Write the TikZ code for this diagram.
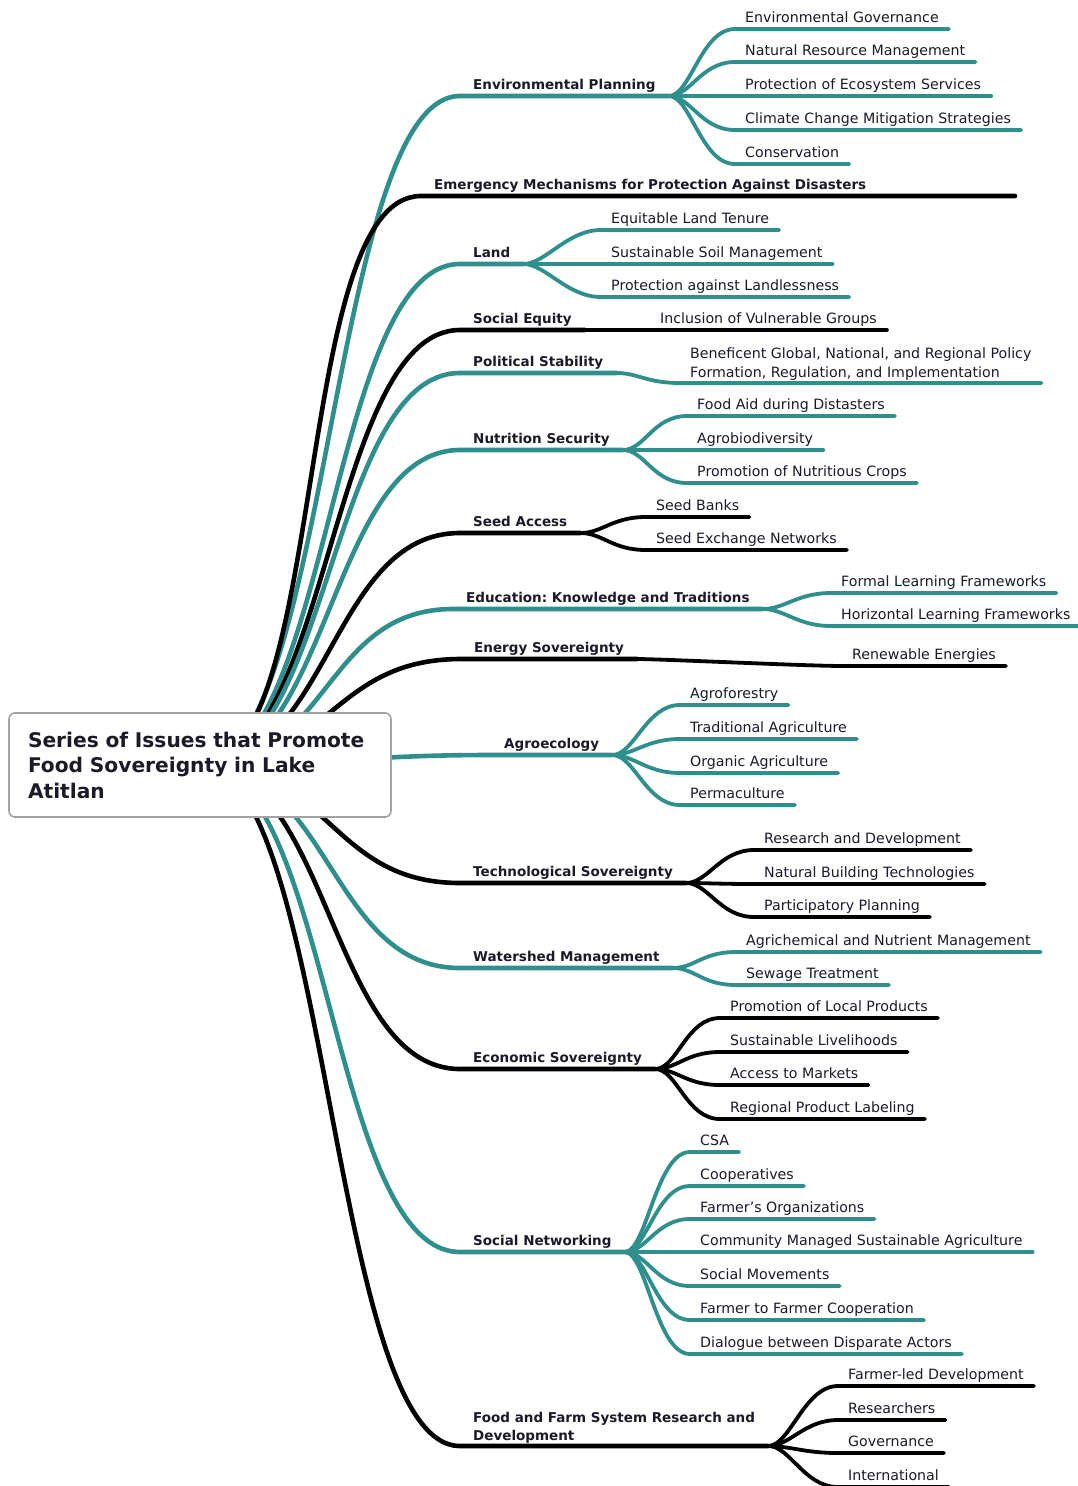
\documentclass[tikz,border=0pt]{standalone}
\usepackage{fontspec}
\setmainfont{DejaVu Sans}
\usepackage{tikz}
\usetikzlibrary{positioning,backgrounds}
\frenchspacing
\definecolor{mmteal} {HTML}{2F8F8C}
\definecolor{mmink}  {HTML}{1A1A28}
\definecolor{mmframe}{HTML}{A3A3A3}
\tikzset{
  mmroot/.style={draw=mmframe, line width=1.6pt, fill=white, rounded corners=6pt,
                 minimum width=382pt, minimum height=104pt, inner xsep=19pt,
                 text width=344pt, align=left, text=mmink,
                 font=\bfseries\fontsize{20.2}{25.5}\selectfont},
  mmtopic/.style={anchor=south west, inner xsep=13pt, inner ysep=2.5pt, text=mmink,
                  text height=10pt, text depth=3.5pt,
                  font=\bfseries\fontsize{13.5}{18}\selectfont},
  mmleaf/.style={mmtopic, inner xsep=10pt, font=\fontsize{14.2}{18.5}\selectfont},
  mmmulti/.style={align=left, text height={}, text depth={}},
  mmbranch/.style={line width=4.6pt, line cap=round,
                   to path={.. controls +(130,0) and +(-130,0) .. (\tikztotarget)}},
  mmtwig/.style={line width=3.8pt, line cap=round,
                 to path={.. controls +(22,0) and +(-34,0) .. (\tikztotarget)}},
}
\begin{document}
\begin{tikzpicture}[x=1pt,y=-1pt]
  \useasboundingbox (0,0) rectangle (1078,1486);
  \node[mmroot] (root) at (200,765) {Series of Issues that Promote\\Food Sovereignty in Lake\\Atitlan};

  \node[mmtopic] (ep) at (460,96) {Environmental Planning};
  \node[mmleaf] (ep1) at (735,29)  {Environmental Governance};
  \node[mmleaf] (ep2) at (735,62)  {Natural Resource Management};
  \node[mmleaf] (ep3) at (735,96)  {Protection of Ecosystem Services};
  \node[mmleaf] (ep4) at (735,130) {Climate Change Mitigation Strategies};
  \node[mmleaf] (ep5) at (735,164) {Conservation};

  \node[mmtopic] (em) at (421,196) {Emergency Mechanisms for Protection Against Disasters};
  \coordinate (emend) at (1015,196);

  \node[mmtopic] (la) at (460,264) {Land};
  \node[mmleaf] (la1) at (601,230) {Equitable Land Tenure};
  \node[mmleaf] (la2) at (601,264) {Sustainable Soil Management};
  \node[mmleaf] (la3) at (601,297) {Protection against Landlessness};

  \node[mmtopic] (se) at (460,330) {Social Equity};
  \node[mmleaf] (se1) at (650,330) {Inclusion of Vulnerable Groups};

  \node[mmtopic] (ps) at (460,373) {Political Stability};
  \node[mmleaf,mmmulti] (ps1) at (680,383) {Beneficent Global, National, and Regional Policy\\Formation, Regulation, and Implementation};

  \node[mmtopic] (ns) at (460,450) {Nutrition Security};
  \node[mmleaf] (ns1) at (687,416) {Food Aid during Distasters};
  \node[mmleaf] (ns2) at (687,450) {Agrobiodiversity};
  \node[mmleaf] (ns3) at (687,483) {Promotion of Nutritious Crops};

  \node[mmtopic] (sa) at (460,533) {Seed Access};
  \node[mmleaf] (sa1) at (646,517) {Seed Banks};
  \node[mmleaf] (sa2) at (646,550) {Seed Exchange Networks};

  \node[mmtopic] (ed) at (453,609) {Education: Knowledge and Traditions};
  \node[mmleaf] (ed1) at (831,593) {Formal Learning Frameworks};
  \node[mmleaf] (ed2) at (831,626) {Horizontal Learning Frameworks};

  \node[mmtopic] (en) at (461,659) {Energy Sovereignty};
  \node[mmleaf] (en1) at (842,666) {Renewable Energies};

  \node[mmtopic] (ag) at (491,755) {Agroecology};
  \node[mmleaf] (ag1) at (680,705) {Agroforestry};
  \node[mmleaf] (ag2) at (680,739) {Traditional Agriculture};
  \node[mmleaf] (ag3) at (680,773) {Organic Agriculture};
  \node[mmleaf] (ag4) at (680,805) {Permaculture};

  \node[mmtopic] (ts) at (460,883) {Technological Sovereignty};
  \node[mmleaf] (ts1) at (754,850) {Research and Development};
  \node[mmleaf] (ts2) at (754,884) {Natural Building Technologies};
  \node[mmleaf] (ts3) at (754,917) {Participatory Planning};

  \node[mmtopic] (wm) at (460,968) {Watershed Management};
  \node[mmleaf] (wm1) at (736,952) {Agrichemical and Nutrient Management};
  \node[mmleaf] (wm2) at (736,985) {Sewage Treatment};

  \node[mmtopic] (es) at (460,1069) {Economic Sovereignty};
  \node[mmleaf] (es1) at (720,1018) {Promotion of Local Products};
  \node[mmleaf] (es2) at (720,1052) {Sustainable Livelihoods};
  \node[mmleaf] (es3) at (720,1085) {Access to Markets};
  \node[mmleaf] (es4) at (720,1119) {Regional Product Labeling};

  \node[mmtopic] (sn) at (460,1252) {Social Networking};
  \node[mmleaf] (sn1) at (690,1152) {CSA};
  \node[mmleaf] (sn2) at (690,1186) {Cooperatives};
  \node[mmleaf] (sn3) at (690,1219) {Farmer’s Organizations};
  \node[mmleaf] (sn4) at (690,1252) {Community Managed Sustainable Agriculture};
  \node[mmleaf] (sn5) at (690,1286) {Social Movements};
  \node[mmleaf] (sn6) at (690,1320) {Farmer to Farmer Cooperation};
  \node[mmleaf] (sn7) at (690,1354) {Dialogue between Disparate Actors};

  \node[mmtopic,mmmulti] (ff) at (460,1446) {Food and Farm System Research and\\Development};
  \node[mmleaf] (ff1) at (838,1386) {Farmer-led Development};
  \node[mmleaf] (ff2) at (838,1420) {Researchers};
  \node[mmleaf] (ff3) at (838,1453) {Governance};
  \node[mmleaf] (ff4) at (838,1487) {International};

  \begin{scope}[on background layer]
    \draw[mmbranch,mmteal] (root.center) to (ep.south west) -- (ep.south east);
    \draw[mmbranch,black]  (root.center) to (em.south west) -- (emend);
    \draw[mmbranch,mmteal] (root.center) to (la.south west) -- (la.south east);
    \draw[mmbranch,black]  (root.center) to (se.south west) -- (se.south east);
    \draw[mmbranch,mmteal] (root.center) to (ps.south west) -- (ps.south east);
    \draw[mmbranch,mmteal] (root.center) to (ns.south west) -- (ns.south east);
    \draw[mmbranch,black]  (root.center) to (sa.south west) -- (sa.south east);
    \draw[mmbranch,mmteal] (root.center) to (ed.south west) -- (ed.south east);
    \draw[mmbranch,black]  (root.center) to (en.south west) -- (en.south east);
    \draw[mmbranch,mmteal] (root.center) to (ag.south west) -- (ag.south east);
    \draw[mmbranch,black]  (root.center) to (ts.south west) -- (ts.south east);
    \draw[mmbranch,mmteal] (root.center) to (wm.south west) -- (wm.south east);
    \draw[mmbranch,black]  (root.center) to (es.south west) -- (es.south east);
    \draw[mmbranch,mmteal] (root.center) to (sn.south west) -- (sn.south east);
    \draw[mmbranch,black]  (root.center) to (ff.south west) -- (ff.south east);
  \end{scope}

  \draw[mmtwig,mmteal] (ep.south east) to (ep1.south west) -- (ep1.south east);
  \draw[mmtwig,mmteal] (ep.south east) to (ep2.south west) -- (ep2.south east);
  \draw[mmtwig,mmteal] (ep.south east) to (ep3.south west) -- (ep3.south east);
  \draw[mmtwig,mmteal] (ep.south east) to (ep4.south west) -- (ep4.south east);
  \draw[mmtwig,mmteal] (ep.south east) to (ep5.south west) -- (ep5.south east);
  \draw[mmtwig,mmteal] (la.south east) to (la1.south west) -- (la1.south east);
  \draw[mmtwig,mmteal] (la.south east) to (la2.south west) -- (la2.south east);
  \draw[mmtwig,mmteal] (la.south east) to (la3.south west) -- (la3.south east);
  \draw[mmtwig,black]  (se.south east) to (se1.south west) -- (se1.south east);
  \draw[mmtwig,mmteal] (ps.south east) to (ps1.south west) -- (ps1.south east);
  \draw[mmtwig,mmteal] (ns.south east) to (ns1.south west) -- (ns1.south east);
  \draw[mmtwig,mmteal] (ns.south east) to (ns2.south west) -- (ns2.south east);
  \draw[mmtwig,mmteal] (ns.south east) to (ns3.south west) -- (ns3.south east);
  \draw[mmtwig,black]  (sa.south east) to (sa1.south west) -- (sa1.south east);
  \draw[mmtwig,black]  (sa.south east) to (sa2.south west) -- (sa2.south east);
  \draw[mmtwig,mmteal] (ed.south east) to (ed1.south west) -- (ed1.south east);
  \draw[mmtwig,mmteal] (ed.south east) to (ed2.south west) -- (ed2.south east);
  \draw[mmtwig,black]  (en.south east) to (en1.south west) -- (en1.south east);
  \draw[mmtwig,mmteal] (ag.south east) to (ag1.south west) -- (ag1.south east);
  \draw[mmtwig,mmteal] (ag.south east) to (ag2.south west) -- (ag2.south east);
  \draw[mmtwig,mmteal] (ag.south east) to (ag3.south west) -- (ag3.south east);
  \draw[mmtwig,mmteal] (ag.south east) to (ag4.south west) -- (ag4.south east);
  \draw[mmtwig,black]  (ts.south east) to (ts1.south west) -- (ts1.south east);
  \draw[mmtwig,black]  (ts.south east) to (ts2.south west) -- (ts2.south east);
  \draw[mmtwig,black]  (ts.south east) to (ts3.south west) -- (ts3.south east);
  \draw[mmtwig,mmteal] (wm.south east) to (wm1.south west) -- (wm1.south east);
  \draw[mmtwig,mmteal] (wm.south east) to (wm2.south west) -- (wm2.south east);
  \draw[mmtwig,black]  (es.south east) to (es1.south west) -- (es1.south east);
  \draw[mmtwig,black]  (es.south east) to (es2.south west) -- (es2.south east);
  \draw[mmtwig,black]  (es.south east) to (es3.south west) -- (es3.south east);
  \draw[mmtwig,black]  (es.south east) to (es4.south west) -- (es4.south east);
  \draw[mmtwig,mmteal] (sn.south east) to (sn1.south west) -- (sn1.south east);
  \draw[mmtwig,mmteal] (sn.south east) to (sn2.south west) -- (sn2.south east);
  \draw[mmtwig,mmteal] (sn.south east) to (sn3.south west) -- (sn3.south east);
  \draw[mmtwig,mmteal] (sn.south east) to (sn4.south west) -- (sn4.south east);
  \draw[mmtwig,mmteal] (sn.south east) to (sn5.south west) -- (sn5.south east);
  \draw[mmtwig,mmteal] (sn.south east) to (sn6.south west) -- (sn6.south east);
  \draw[mmtwig,mmteal] (sn.south east) to (sn7.south west) -- (sn7.south east);
  \draw[mmtwig,black]  (ff.south east) to (ff1.south west) -- (ff1.south east);
  \draw[mmtwig,black]  (ff.south east) to (ff2.south west) -- (ff2.south east);
  \draw[mmtwig,black]  (ff.south east) to (ff3.south west) -- (ff3.south east);
  \draw[mmtwig,black]  (ff.south east) to (ff4.south west) -- (ff4.south east);
\end{tikzpicture}
\end{document}
